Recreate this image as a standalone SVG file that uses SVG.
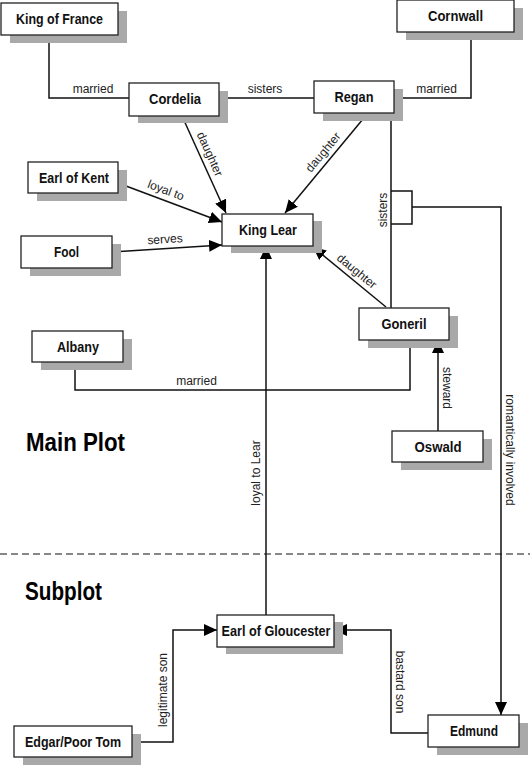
<svg xmlns="http://www.w3.org/2000/svg" width="530" height="766" viewBox="0 0 530 766">
<style>
.sh{fill:#a9a9a9}
.bx{fill:#fff;stroke:#222;stroke-width:1.3}
.nt{font-family:"Liberation Sans",Arial,sans-serif;font-weight:bold;font-size:15px;fill:#111;text-anchor:middle}
.el{font-family:"Liberation Sans",Arial,sans-serif;font-size:12px;fill:#222;text-anchor:middle}
.ln{fill:none;stroke:#111;stroke-width:1.5}
.hd{font-family:"Liberation Sans",Arial,sans-serif;font-weight:bold;font-size:26px;fill:#000}
</style>
<defs>
<marker id="ar" markerUnits="userSpaceOnUse" markerWidth="14" markerHeight="12" refX="13" refY="6" orient="auto">
<path d="M0,0 L13,6 L0,12 z" fill="#000"/>
</marker>
</defs>
<rect width="530" height="766" fill="#fff"/>
<line x1="0" y1="554" x2="530" y2="554" stroke="#111" stroke-width="1.2" stroke-dasharray="7,4"/>
<text class="hd" x="26" y="451" textLength="99" lengthAdjust="spacingAndGlyphs">Main Plot</text>
<text class="hd" x="25" y="600" textLength="77" lengthAdjust="spacingAndGlyphs">Subplot</text>
<g id="connectors">
<polyline class="ln" points="49,35 49,98 129,98"/>
<line class="ln" x1="219" y1="98" x2="314" y2="98"/>
<polyline class="ln" points="394,98 471,98 471,32"/>
<line class="ln" x1="182" y1="116" x2="226" y2="213" marker-end="url(#ar)"/>
<line class="ln" x1="368" y1="113" x2="285" y2="213" marker-end="url(#ar)"/>
<line class="ln" x1="386" y1="307" x2="313" y2="247" marker-end="url(#ar)"/>
<line class="ln" x1="118" y1="183" x2="222" y2="222" marker-end="url(#ar)"/>
<line class="ln" x1="112" y1="252" x2="222" y2="245" marker-end="url(#ar)"/>
<line class="ln" x1="391" y1="113" x2="391" y2="308"/>
<polyline class="ln" points="391,191 412,191 412,224 391,224"/>
<polyline class="ln" points="412,207 501,207 501,715" marker-end="url(#ar)"/>
<polyline class="ln" points="75,362 75,390 410,390 410,340"/>
<line class="ln" x1="438" y1="431" x2="438" y2="340" marker-end="url(#ar)"/>
<line class="ln" x1="266" y1="615" x2="266" y2="246" marker-end="url(#ar)"/>
<polyline class="ln" points="132,742 173,742 173,630 217,630" marker-end="url(#ar)"/>
<polyline class="ln" points="428,733 391,733 391,630 334,630" marker-end="url(#ar)"/>
<text class="el" x="93" y="93">married</text>
<text class="el" x="265" y="93">sisters</text>
<text class="el" x="436.5" y="93">married</text>
<text class="el" x="210" y="154" dy=".35em" transform="rotate(65.6 210 154)">daughter</text>
<text class="el" x="323" y="152" dy=".35em" transform="rotate(-50.3 323 152)">daughter</text>
<text class="el" x="357" y="271" dy=".35em" transform="rotate(39.4 357 271)">daughter</text>
<text class="el" x="166" y="190" dy=".35em" transform="rotate(20.6 166 190)">loyal to</text>
<text class="el" x="165" y="239" dy=".35em" transform="rotate(-3.6 165 239)">serves</text>
<text class="el" x="383" y="210" dy=".35em" transform="rotate(-90 383 210)">sisters</text>
<text class="el" x="196.5" y="385">married</text>
<text class="el" x="447.5" y="388" dy=".35em" transform="rotate(90 447.5 388)">steward</text>
<text class="el" x="256" y="473" dy=".35em" transform="rotate(-90 256 473)">loyal to Lear</text>
<text class="el" x="510" y="450" dy=".35em" transform="rotate(90 510 450)">romantically involved</text>
<text class="el" x="163" y="690" dy=".35em" transform="rotate(-90 163 690)">legitimate son</text>
<text class="el" x="400" y="682" dy=".35em" transform="rotate(90 400 682)">bastard son</text>
</g>
<g id="king-of-france"><rect class="sh" x="10" y="11" width="117" height="32"/><rect class="bx" x="1" y="3" width="117" height="32"/><text class="nt" x="59.5" y="24" textLength="87" lengthAdjust="spacingAndGlyphs">King of France</text></g>
<g id="cornwall"><rect class="sh" x="406" y="8" width="117" height="32"/><rect class="bx" x="397" y="0" width="117" height="32"/><text class="nt" x="455.5" y="21" textLength="55" lengthAdjust="spacingAndGlyphs">Cornwall</text></g>
<g id="cordelia"><rect class="sh" x="138" y="91" width="90" height="32"/><rect class="bx" x="129" y="83" width="90" height="33"/><text class="nt" x="175" y="104" textLength="52" lengthAdjust="spacingAndGlyphs">Cordelia</text></g>
<g id="regan"><rect class="sh" x="323" y="89" width="80" height="32"/><rect class="bx" x="314" y="81" width="80" height="32"/><text class="nt" x="354" y="102" textLength="39" lengthAdjust="spacingAndGlyphs">Regan</text></g>
<g id="earl-of-kent"><rect class="sh" x="37" y="170" width="90" height="31"/><rect class="bx" x="28" y="162" width="90" height="31"/><text class="nt" x="74" y="183" textLength="70" lengthAdjust="spacingAndGlyphs">Earl of Kent</text></g>
<g id="fool"><rect class="sh" x="30" y="244" width="91" height="32"/><rect class="bx" x="21" y="236" width="91" height="32"/><text class="nt" x="66.5" y="257" textLength="25" lengthAdjust="spacingAndGlyphs">Fool</text></g>
<g id="king-lear"><rect class="sh" x="231" y="221" width="91" height="32"/><rect class="bx" x="222" y="214" width="91" height="32"/><text class="nt" x="268" y="235" textLength="58" lengthAdjust="spacingAndGlyphs">King Lear</text></g>
<g id="goneril"><rect class="sh" x="368" y="316" width="90" height="32"/><rect class="bx" x="359" y="308" width="90" height="32"/><text class="nt" x="404" y="329" textLength="45" lengthAdjust="spacingAndGlyphs">Goneril</text></g>
<g id="albany"><rect class="sh" x="41" y="339" width="91" height="31"/><rect class="bx" x="32" y="331" width="91" height="31"/><text class="nt" x="78" y="352" textLength="42" lengthAdjust="spacingAndGlyphs">Albany</text></g>
<g id="oswald"><rect class="sh" x="401" y="439" width="91" height="31"/><rect class="bx" x="392" y="431" width="91" height="31"/><text class="nt" x="438" y="452" textLength="47" lengthAdjust="spacingAndGlyphs">Oswald</text></g>
<g id="earl-of-gloucester"><rect class="sh" x="226" y="622" width="117" height="32"/><rect class="bx" x="217" y="615" width="117" height="32"/><text class="nt" x="276" y="636" textLength="109" lengthAdjust="spacingAndGlyphs">Earl of Gloucester</text></g>
<g id="edgar"><rect class="sh" x="23" y="734" width="118" height="31"/><rect class="bx" x="14" y="726" width="118" height="31"/><text class="nt" x="73" y="747" textLength="96" lengthAdjust="spacingAndGlyphs">Edgar/Poor Tom</text></g>
<g id="edmund"><rect class="sh" x="437" y="723" width="91" height="32"/><rect class="bx" x="428" y="715" width="91" height="32"/><text class="nt" x="474" y="736" textLength="48" lengthAdjust="spacingAndGlyphs">Edmund</text></g>
</svg>
